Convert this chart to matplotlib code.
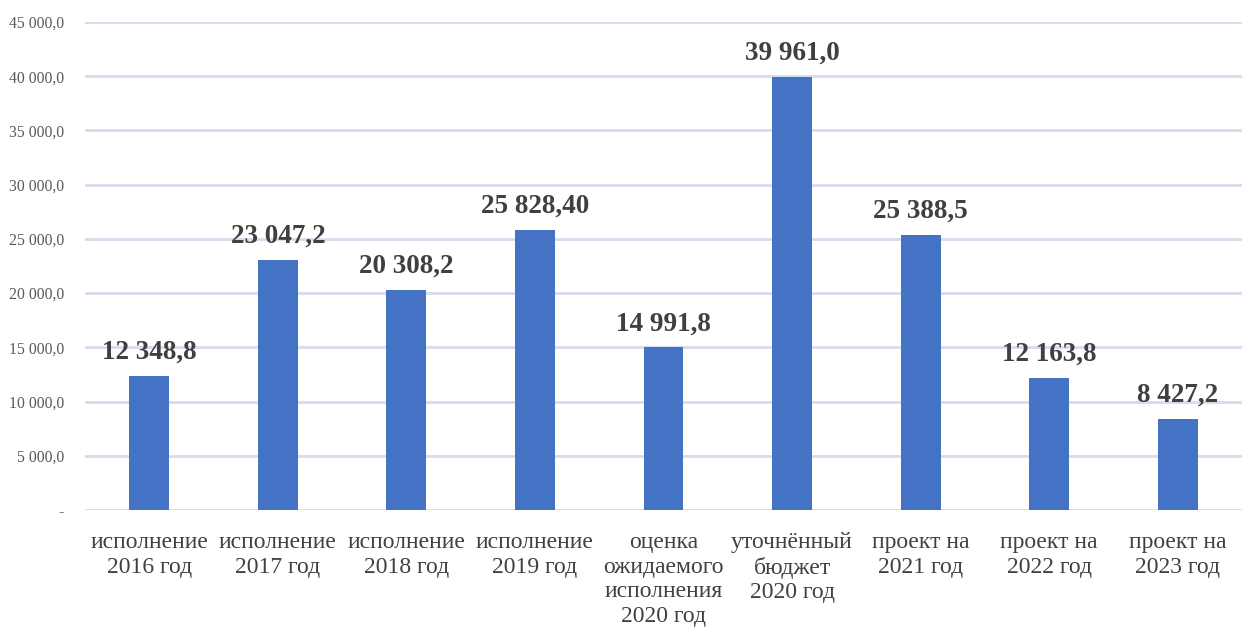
import matplotlib.pyplot as plt
from matplotlib.ticker import FuncFormatter

categories = ['исполнение\n2016 год', 'исполнение\n2017 год', 'исполнение\n2018 год',
              'исполнение\n2019 год', 'оценка\nожидаемого\nисполнения\n2020 год',
              'уточнённый\nбюджет\n2020 год', 'проект на\n2021 год', 'проект на\n2022 год',
              'проект на\n2023 год']
values = [12348.8, 23047.2, 20308.2, 25828.4, 14991.8, 39961.0, 25388.5, 12163.8, 8427.2]
value_labels = ['12 348,8', '23 047,2', '20 308,2', '25 828,40', '14 991,8',
                '39 961,0', '25 388,5', '12 163,8', '8 427,2']

plt.rcParams['font.family'] = ['Liberation Serif', 'DejaVu Serif']

fig = plt.figure(figsize=(12.42, 6.32), dpi=100)
ax = fig.add_axes([85 / 1242, 1 - 510 / 632, 1157 / 1242, 488 / 632])

x = range(len(categories))
ax.bar(x, values, width=0.31, color='#4472C4', zorder=3)

for i, (v, lab) in enumerate(zip(values, value_labels)):
    ax.annotate(lab, (i, v), xytext=(0, 8), textcoords='offset points',
                ha='center', va='bottom', fontsize=19.5, fontweight='bold', color='#404040')

ax.set_xlim(-0.5, len(categories) - 0.5)
ax.set_ylim(0, 45000)
ax.set_yticks(range(0, 45001, 5000))


def fmt(v, pos):
    if v == 0:
        return '-'
    return '{:,.1f}'.format(v).replace(',', ' ').replace('.', ',')


ax.yaxis.set_major_formatter(FuncFormatter(fmt))
ax.grid(axis='y', color='#D5DCEC', linewidth=2, zorder=0)
ax.set_xticks(list(x))
ax.set_xticklabels(categories, fontsize=17, color='#404040', linespacing=1.22)
ax.tick_params(axis='y', labelsize=11.3, labelcolor='#595959', length=0, pad=15)
ax.tick_params(axis='x', length=0, pad=16)
for s in ax.spines.values():
    s.set_visible(False)

fig.savefig('out.png', dpi=100)
